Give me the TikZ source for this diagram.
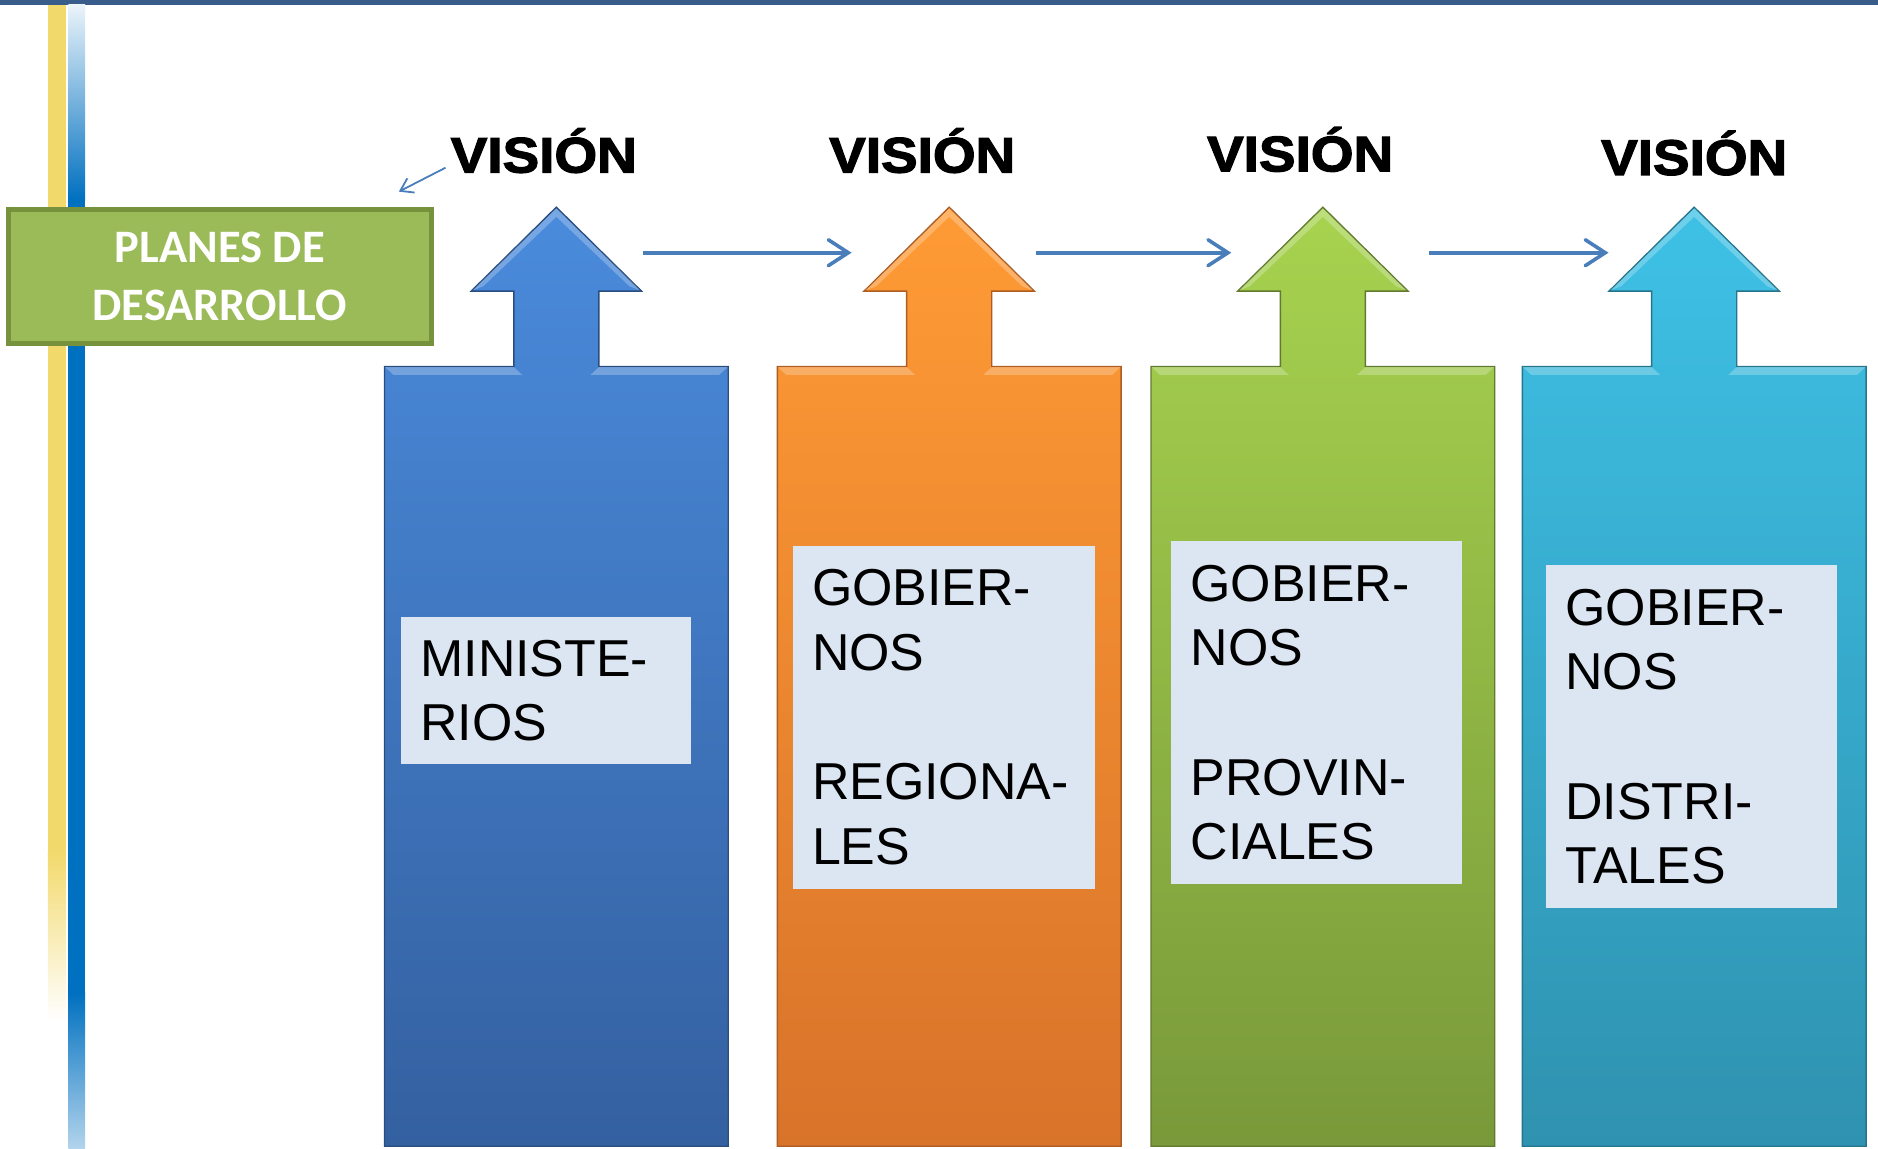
\documentclass[tikz,border=0pt]{standalone}
\usepackage{fontspec}
\setmainfont{Liberation Sans}
\newfontfamily\visionfont{Liberation Sans}[BoldFeatures={FakeBold=2.5,FakeStretch=1.1}]
\newfontfamily\planfont{Carlito}
\usetikzlibrary{arrows.meta,positioning}

\begin{document}
\begin{tikzpicture}[x=0.6pt,y=-0.6pt,
  vision/.style={anchor=base,font=\visionfont\bfseries\fontsize{25}{28}\selectfont},
  plan box/.style={draw=plan edge,line width=2.4pt,fill=plan fill,text=white,align=center,
    minimum width=211.8pt,minimum height=67.2pt,font=\planfont\bfseries\fontsize{23.3}{29}\selectfont},
  level box/.style={fill=box fill,align=left,inner xsep=9.6pt,inner ysep=0pt,
    font=\fontsize{26}{32.4}\selectfont},
  link/.style={draw=link blue,line width=1.8pt,-{Straight Barb[length=10pt,width=13pt,line cap=round]}},
]
  \definecolor{top bar}{HTML}{385D8A}
  \definecolor{yellow line}{HTML}{F2D96B}
  \definecolor{blue line}{HTML}{0070C0}
  \definecolor{plan fill}{HTML}{9BBB59}
  \definecolor{plan edge}{HTML}{76923C}
  \definecolor{box fill}{HTML}{DCE6F2}
  \definecolor{link blue}{HTML}{4A7EBB}
  \definecolor{c1 top}{HTML}{4A8BDC}\definecolor{c1 bot}{HTML}{3460A0}
  \definecolor{c2 top}{HTML}{FF9B35}\definecolor{c2 bot}{HTML}{D8732A}
  \definecolor{c3 top}{HTML}{A7D34F}\definecolor{c3 bot}{HTML}{79993A}
  \definecolor{c4 top}{HTML}{3EC1E6}\definecolor{c4 bot}{HTML}{2F92B0}

  \useasboundingbox (0,0) rectangle (1568,959);

  % slide frame
  \fill[top bar] (0,0) rectangle (1568,4);
  \fill[yellow line] (40,4) rectangle (55,710);
  \shade[top color=yellow line,bottom color=white] (40,710) rectangle (55,852);
  \shade[top color=blue line!8,bottom color=blue line] (57,4) rectangle (71,167);
  \fill[blue line] (57,167) rectangle (71,829);
  \shade[top color=blue line,bottom color=blue line!30] (57,829) rectangle (71,959);

  % columns with up arrows
  \foreach \cx/\c in {464.5/c1,792.5/c2,1104.5/c3,1414.5/c4}{
    \shade[draw=\c\space bot!80!black,line width=0.7pt,top color=\c\space top,bottom color=\c\space bot,shift={(\cx,0)}]
      (0,173) -- (71,243) -- (35.5,243) -- (35.5,306) -- (143.5,306) -- (143.5,957)
      -- (-143.5,957) -- (-143.5,306) -- (-35.5,306) -- (-35.5,243) -- (-71,243) -- cycle;
    \fill[white,opacity=.25,shift={(\cx,0)}]
      (-143,306.5) -- (-35.5,306.5) -- (-28.5,313) -- (-136,313) -- cycle
      (35.5,306.5) -- (143,306.5) -- (136,313) -- (28.5,313) -- cycle
      (-70,242.5) -- (0,174) -- (70,242.5) -- (61,239) -- (0,181) -- (-61,239) -- cycle;
  }

  \node[plan box] (plan) at (183.5,231) {PLANES DE\\DESARROLLO};

  \node[vision] (v1) at (454,144) {VISIÓN};
  \node[vision] (v2) at (770,144) {VISIÓN};
  \node[vision] (v3) at (1085.5,143) {VISIÓN};
  \node[vision] (v4) at (1414.5,146) {VISIÓN};

  \node[level box,text width=126pt,minimum height=73.8pt] (t1) at (456,576.5) {MINISTE-\\RIOS};
  \node[level box,text width=132pt,minimum height=171.6pt] (t2) at (788,599) {GOBIER-\\NOS\\\mbox{}\\REGIONA-\\LES};
  \node[level box,text width=126.6pt,minimum height=171.6pt] (t3) at (1099.5,595) {GOBIER-\\NOS\\\mbox{}\\PROVIN-\\CIALES};
  \node[level box,text width=126.6pt,minimum height=171.6pt] (t4) at (1412.5,615) {GOBIER-\\NOS\\\mbox{}\\DISTRI-\\TALES};

  \coordinate (A1) at (537,211);
  \coordinate (B1) at (711,211);
  \coordinate (A2) at (865,211);
  \coordinate (B2) at (1028,211);
  \coordinate (A3) at (1193,211);
  \coordinate (B3) at (1343,211);
  \coordinate (C) at (372,140);
  \coordinate (D) at (333,160);

  \draw[link] (A1) -- (B1);
  \draw[link] (A2) -- (B2);
  \draw[link] (A3) -- (B3);
  \draw[link,line width=0.9pt,-{Straight Barb[length=6pt,width=8pt]}] (C) -- (D);
\end{tikzpicture}
\end{document}
